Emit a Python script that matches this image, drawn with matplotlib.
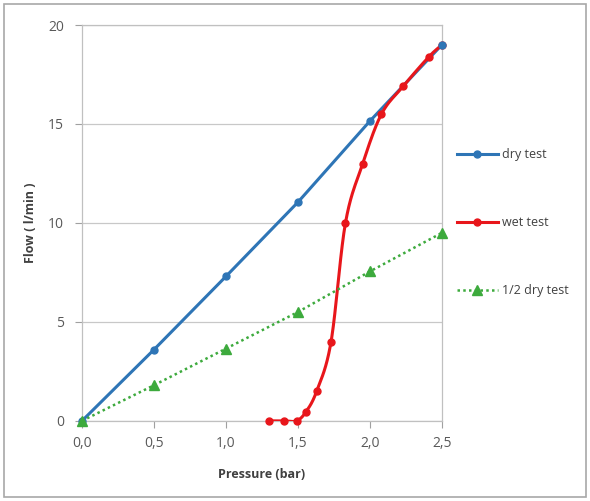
import numpy as np
import matplotlib.pyplot as plt
from matplotlib.patches import Rectangle

# data
dry_x = [0.0, 0.5, 1.0, 1.5, 2.0, 2.5]
dry_y = [0.0, 3.6, 7.3, 11.05, 15.15, 19.0]

wet_x = [1.3, 1.4, 1.49, 1.555, 1.63, 1.73, 1.83, 1.95, 2.08, 2.23, 2.41, 2.5]
wet_y = [0.0, 0.0, 0.0, 0.45, 1.5, 4.0, 10.0, 13.0, 15.5, 16.9, 18.4, 19.0]

half_x = [0.0, 0.5, 1.0, 1.5, 2.0, 2.5]
half_y = [0.0, 1.8, 3.65, 5.5, 7.55, 9.5]

x_ticks = [0.0, 0.5, 1.0, 1.5, 2.0, 2.5]
x_ticklabels = ["0,0", "0,5", "1,0", "1,5", "2,0", "2,5"]
y_ticks = [0, 5, 10, 15, 20]


def smooth(xs, ys, n=20):
    # Catmull-Rom style smoothing like Excel's "smoothed line"
    px = np.array(xs, float)
    py = np.array(ys, float)
    px = np.concatenate([[2 * px[0] - px[1]], px, [2 * px[-1] - px[-2]]])
    py = np.concatenate([[2 * py[0] - py[1]], py, [2 * py[-1] - py[-2]]])
    ox, oy = [], []
    t = np.linspace(0, 1, n)
    for i in range(1, len(px) - 2):
        for arr, out in ((px, ox), (py, oy)):
            p0, p1, p2, p3 = arr[i - 1], arr[i], arr[i + 1], arr[i + 2]
            c1 = p1 + (p2 - p0) / 6
            c2 = p2 - (p3 - p1) / 6
            out.extend((1 - t) ** 3 * p1 + 3 * (1 - t) ** 2 * t * c1
                       + 3 * (1 - t) * t ** 2 * c2 + t ** 3 * p2)
    return ox, oy


plt.rcParams['font.family'] = ['Open Sans', 'DejaVu Sans']

fig = plt.figure(figsize=(5.9, 5.01), dpi=100)
ax = fig.add_axes([0.139, 0.160, 0.610, 0.790])

blue = "#2E75B6"
red = "#E8161B"
green = "#3DAA3D"

ax.plot(dry_x, dry_y, color=blue, lw=2.2, zorder=3)
sx, sy = smooth(wet_x, wet_y)
ax.plot(sx, sy, color=red, lw=2.2, zorder=4)
ax.plot(wet_x, wet_y, color=red, lw=0, marker="o", ms=5, zorder=4, clip_on=False)
ax.plot(dry_x, dry_y, color=blue, lw=0, marker="o", ms=5, zorder=5, clip_on=False)
ax.plot(half_x, half_y, color=green, lw=1.8, ls=(0, (1, 1.3)), zorder=6)
ax.plot(half_x, half_y, color=green, lw=0, marker="^", ms=7, zorder=6, clip_on=False)

# legend handles
ax.plot([], [], color=blue, lw=2.2, marker="o", ms=5, label="dry test")
ax.plot([], [], color=red, lw=2.2, marker="o", ms=5, label="wet test")
ax.plot([], [], color=green, lw=1.8, ls=(0, (1, 1.3)), marker="^", ms=7, label="1/2 dry test")

ax.set_xlim(0, 2.5)
ax.set_ylim(0, 20)
ax.set_xticks(x_ticks)
ax.set_xticklabels(x_ticklabels)
ax.set_yticks(y_ticks)
ax.tick_params(colors="#A0A0A0", labelcolor="#595959", labelsize=10, length=5, width=0.8)
ax.tick_params(axis="x", pad=6)
ax.tick_params(axis="y", pad=8)
ax.grid(axis="y", color="#C8C8C8", lw=0.9)
for s in ax.spines.values():
    s.set_color("#C0C0C0")
    s.set_linewidth(0.9)

ax.set_xlabel("Pressure (bar)", fontsize=9, fontweight="bold", color="#404040", labelpad=12)
ax.set_ylabel("Flow ( l/min )", fontsize=9, fontweight="bold", color="#404040", labelpad=8)

ax.legend(loc="center left", bbox_to_anchor=(1.01, 0.50), frameon=False, fontsize=9,
          labelspacing=4.4, handlelength=3.3, handletextpad=0.3, labelcolor="#404040")

fig.patches.append(Rectangle((0.006, 0.008), 0.988, 0.984, transform=fig.transFigure,
                             fill=False, edgecolor="#A8A8A8", lw=1.2))

fig.savefig("out.png", dpi=100)
